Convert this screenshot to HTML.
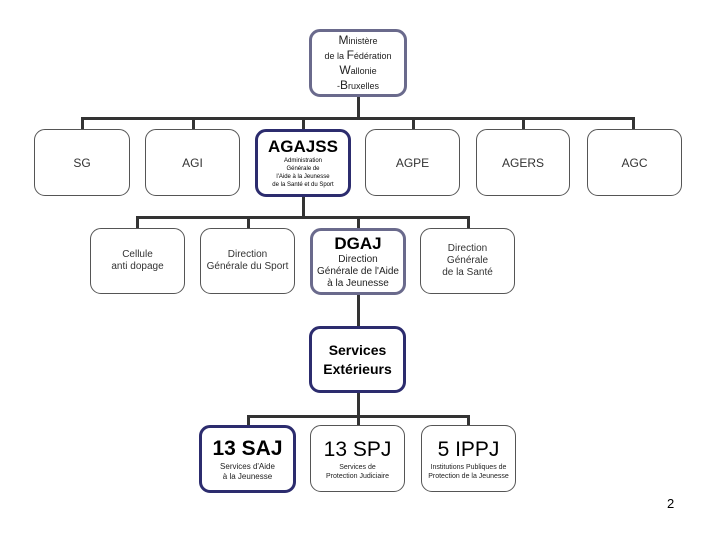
<!DOCTYPE html>
<html><head><meta charset="utf-8"><style>
body{margin:0;width:720px;height:540px;background:#fff;position:relative;overflow:hidden;font-family:"Liberation Sans",sans-serif;}
.b{position:absolute;box-sizing:border-box;border:1px solid #555;border-radius:11px;background:#fff;display:flex;flex-direction:column;align-items:center;justify-content:center;text-align:center;color:#333;}
.k{border:3px solid #2c2c6e;}
.m{border:3px solid #6a6a8c;}
.l{position:absolute;background:#333;}
</style></head><body>
<!-- lines -->
<div class="l" style="left:357px;top:96px;width:3px;height:23px"></div>
<div class="l" style="left:81px;top:117px;width:554px;height:3px"></div>
<div class="l" style="left:81px;top:117px;width:3px;height:13px"></div>
<div class="l" style="left:192px;top:117px;width:3px;height:13px"></div>
<div class="l" style="left:302px;top:117px;width:3px;height:13px"></div>
<div class="l" style="left:412px;top:117px;width:3px;height:13px"></div>
<div class="l" style="left:522px;top:117px;width:3px;height:13px"></div>
<div class="l" style="left:632px;top:117px;width:3px;height:13px"></div>
<div class="l" style="left:302px;top:196px;width:3px;height:22px"></div>
<div class="l" style="left:136px;top:216px;width:334px;height:3px"></div>
<div class="l" style="left:136px;top:216px;width:3px;height:13px"></div>
<div class="l" style="left:247px;top:216px;width:3px;height:13px"></div>
<div class="l" style="left:357px;top:216px;width:3px;height:13px"></div>
<div class="l" style="left:467px;top:216px;width:3px;height:13px"></div>
<div class="l" style="left:357px;top:294px;width:3px;height:33px"></div>
<div class="l" style="left:357px;top:392px;width:3px;height:34px"></div>
<div class="l" style="left:247px;top:415px;width:223px;height:3px"></div>
<div class="l" style="left:247px;top:415px;width:3px;height:11px"></div>
<div class="l" style="left:467px;top:415px;width:3px;height:11px"></div>
<!-- boxes -->
<div class="b m" style="left:309px;top:29px;width:98px;height:68px;font-size:9px;line-height:14px;color:#222">
<div><span style="font-size:12px">M</span>inistère</div><div>de la <span style="font-size:12px">F</span>édération</div><div><span style="font-size:12px">W</span>allonie</div><div>-<span style="font-size:12px">B</span>ruxelles</div></div>
<div class="b" style="left:34px;top:129px;width:96px;height:67px;font-size:12px">SG</div>
<div class="b" style="left:145px;top:129px;width:95px;height:67px;font-size:12px">AGI</div>
<div class="b k" style="left:255px;top:129px;width:96px;height:68px;color:#000">
<div style="font-size:17px;font-weight:bold;line-height:20px">AGAJSS</div>
<div style="font-size:6px;line-height:8px">Administration<br>Générale de<br>l'Aide à la Jeunesse<br>de la Santé et du Sport</div></div>
<div class="b" style="left:365px;top:129px;width:95px;height:67px;font-size:12px">AGPE</div>
<div class="b" style="left:476px;top:129px;width:94px;height:67px;font-size:12px">AGERS</div>
<div class="b" style="left:587px;top:129px;width:95px;height:67px;font-size:12px">AGC</div>
<div class="b" style="left:90px;top:228px;width:95px;height:66px;font-size:10px;line-height:12px">Cellule<br>anti dopage</div>
<div class="b" style="left:200px;top:228px;width:95px;height:66px;font-size:10px;line-height:12px">Direction<br>Générale du Sport</div>
<div class="b m" style="left:310px;top:228px;width:96px;height:67px;color:#222">
<div style="font-size:17px;font-weight:bold;color:#000;line-height:20px">DGAJ</div>
<div style="font-size:10px;line-height:12px">Direction<br>Générale de l'Aide<br>à la Jeunesse</div></div>
<div class="b" style="left:420px;top:228px;width:95px;height:66px;font-size:10px;line-height:12px">Direction<br>Générale<br>de la Santé</div>
<div class="b k" style="left:309px;top:326px;width:97px;height:67px;font-size:14px;font-weight:bold;line-height:19px;color:#000">Services<br>Extérieurs</div>
<div class="b k" style="left:199px;top:425px;width:97px;height:68px;color:#000">
<div style="font-size:21px;font-weight:bold;line-height:26px">13 SAJ</div>
<div style="font-size:8px;line-height:10px;color:#222">Services d'Aide<br>à la Jeunesse</div></div>
<div class="b" style="left:310px;top:425px;width:95px;height:67px;color:#000">
<div style="font-size:21px;line-height:26px">13 SPJ</div>
<div style="font-size:7px;line-height:9px;color:#222">Services de<br>Protection Judiciaire</div></div>
<div class="b" style="left:421px;top:425px;width:95px;height:67px;color:#000">
<div style="font-size:21px;line-height:26px">5 IPPJ</div>
<div style="font-size:7px;line-height:9px;color:#222">Institutions Publiques de<br>Protection de la Jeunesse</div></div>
<div style="position:absolute;left:667px;top:496px;font-size:13px;color:#000">2</div>
</body></html>
